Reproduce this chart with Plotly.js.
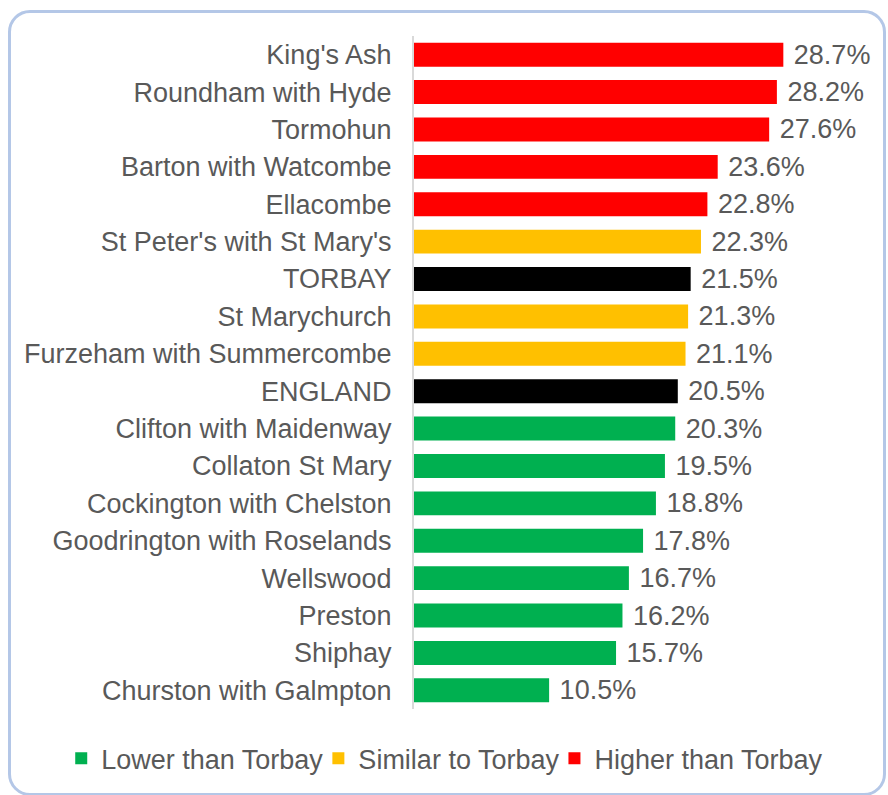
<!DOCTYPE html>
<html>
<head>
<meta charset="utf-8">
<script src="https://cdn.plot.ly/plotly-3.0.1.min.js"></script>
<style>
  html, body { margin: 0; padding: 0; background: #ffffff; }
  #wrap { position: relative; width: 888px; height: 795px; }
  #chart { position: absolute; left: 0; top: 0; width: 888px; height: 795px; }
  #frame { position: absolute; left: 8px; top: 10px; width: 872px; height: 780px;
           border: 3px solid #b4c7e7; border-radius: 22px; pointer-events: none; }
</style>
</head>
<body>
<div id="wrap">
  <div id="chart"></div>
  <div id="frame"></div>
</div>
<script>
// ---- data ----
const categories = ["King's Ash", "Roundham with Hyde", "Tormohun", "Barton with Watcombe", "Ellacombe",
  "St Peter's with St Mary's", "TORBAY", "St Marychurch", "Furzeham with Summercombe", "ENGLAND",
  "Clifton with Maidenway", "Collaton St Mary", "Cockington with Chelston", "Goodrington with Roselands",
  "Wellswood", "Preston", "Shiphay", "Churston with Galmpton"];
const values = [28.7, 28.2, 27.6, 23.6, 22.8, 22.3, 21.5, 21.3, 21.1, 20.5, 20.3, 19.5, 18.8, 17.8, 16.7, 16.2, 15.7, 10.5];
const groups = ["Higher", "Higher", "Higher", "Higher", "Higher", "Similar", "Benchmark", "Similar", "Similar", "Benchmark",
  "Lower", "Lower", "Lower", "Lower", "Lower", "Lower", "Lower", "Lower"];
const groupKeys = ["Lower", "Similar", "Higher", "Benchmark"];
const groupNames = ["Lower than Torbay", "Similar to Torbay", "Higher than Torbay", "Benchmark"];
const groupColors = ["#00B050", "#FFC000", "#FF0000", "#000000"];

// ---- chart ----
const textColor = "#595959";
const fontFamily = "'Liberation Sans', Arial, sans-serif";
const fontSize = 27;

const traces = groupKeys.map((g, i) => {
  const ys = [], xs = [];
  categories.forEach((c, j) => { if (groups[j] === g) { ys.push(c); xs.push(values[j]); } });
  return {
    type: "bar",
    orientation: "h",
    name: groupNames[i],
    x: xs,
    y: ys,
    marker: { color: groupColors[i] },
    texttemplate: "\u00a0%{x:.1f}%",
    textposition: "outside",
    constraintext: "none",
    cliponaxis: false,
    textfont: { size: fontSize, color: textColor, family: fontFamily },
    showlegend: g !== "Benchmark",
    hoverinfo: "y+x"
  };
});

const layout = {
  width: 888,
  height: 795,
  margin: { l: 414, r: 20, t: 36, b: 84 },
  paper_bgcolor: "rgba(0,0,0,0)",
  plot_bgcolor: "rgba(0,0,0,0)",
  font: { family: fontFamily, size: fontSize, color: textColor },
  barmode: "overlay",
  bargap: 0.36,
  xaxis: { range: [0, 35.28], visible: false, fixedrange: true },
  yaxis: {
    type: "category",
    categoryorder: "array",
    categoryarray: categories,
    autorange: "reversed",
    showline: true,
    linecolor: "#d9d9d9",
    linewidth: 2,
    showgrid: false,
    ticks: "",
    ticklabelstandoff: 15,
    tickfont: { size: fontSize, color: textColor, family: fontFamily },
    fixedrange: true
  },
  showlegend: true,
  legend: {
    orientation: "h",
    xref: "paper",
    yref: "paper",
    x: -0.755,
    xanchor: "left",
    y: -0.074,
    yanchor: "middle",
    indentation: -10,
    font: { size: fontSize, color: textColor, family: fontFamily },
    traceorder: "normal",
    itemclick: false,
    itemdoubleclick: false
  }
};

Plotly.newPlot("chart", traces, layout, { displayModeBar: false, staticPlot: true });
</script>
</body>
</html>
